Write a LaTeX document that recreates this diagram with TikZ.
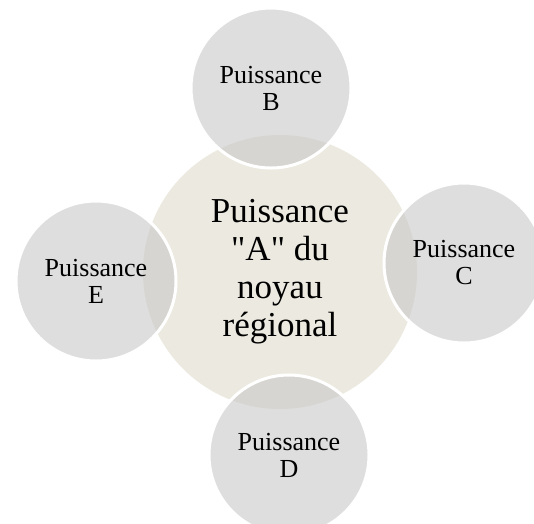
\documentclass[tikz,border=0pt]{standalone}
\usepackage{fontspec}
\setmainfont{Liberation Serif}
\usetikzlibrary{calc}
\definecolor{coreBeige}{RGB}{236,234,224}
\definecolor{satGrey}{RGB}{200,200,200}
\tikzset{
  core/.style={circle, fill=coreBeige, minimum size=274pt, inner sep=0pt,
    align=center, font=\fontsize{35}{38}\selectfont},
  sat/.style={circle, fill=satGrey, fill opacity=0.6, text opacity=1,
    draw=white, line width=3pt, minimum size=160pt, inner sep=0pt,
    align=center, font=\fontsize{26}{27}\selectfont}
}

\begin{document}
\begin{tikzpicture}[x=1pt,y=-1pt]
\useasboundingbox (0,0) rectangle (534,523);
\clip (0,0) rectangle (534,523);
\node[core] (A) at (280,272) {Puissance\\\textquotedbl A\textquotedbl{} du\\noyau\\régional};
\node[sat] (B) at (271,88) {Puissance\\B};
\node[sat] (C) at (464,263) {Puissance\\C};
\node[sat] (D) at (289,455) {Puissance\\D};
\node[sat] (E) at (96,281) {Puissance\\E};
\end{tikzpicture}
\end{document}
